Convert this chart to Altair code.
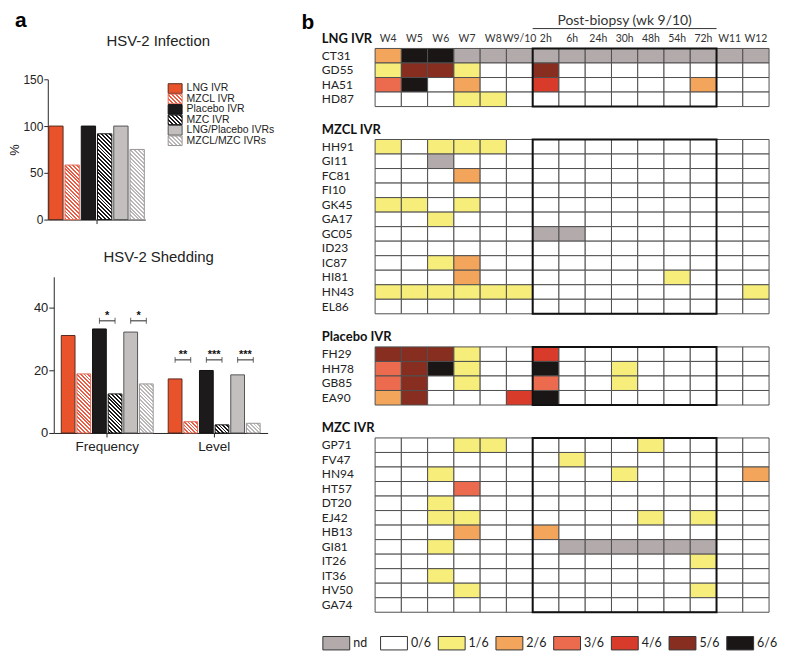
import math
import altair as alt
import pandas as pd

# ---------------- panel a data ----------------
SERIES = ["LNG IVR", "MZCL IVR", "Placebo IVR", "MZC IVR", "LNG/Placebo IVRs", "MZCL/MZC IVRs"]
INFECTION = [100, 58.3, 100, 91.7, 100, 75]
SHED_GROUPS = ["Frequency", "Level"]
SHED_FREQ = [31.2, 18.9, 33.3, 12.5, 32.3, 15.7]
SHED_LEVEL = [17.3, 3.6, 20.0, 2.6, 18.6, 3.1]
BRACKET_GROUP = ["Frequency", "Frequency", "Level", "Level", "Level"]
BRACKET_A = ["Placebo IVR", "LNG/Placebo IVRs", "LNG IVR", "Placebo IVR", "LNG/Placebo IVRs"]
BRACKET_B = ["MZC IVR", "MZCL/MZC IVRs", "MZCL IVR", "MZC IVR", "MZCL/MZC IVRs"]
BRACKET_Y = [35.9, 35.9, 23.4, 23.4, 23.4]
BRACKET_LABEL = ["*", "*", "**", "***", "***"]

# ---------------- panel b data ----------------
COLS = ["W4", "W5", "W6", "W7", "W8", "W9/10", "2h", "6h", "24h", "30h", "48h", "54h", "72h", "W11", "W12"]
POST = ["2h", "6h", "24h", "30h", "48h", "54h", "72h"]
LEVELS = ["nd", "0/6", "1/6", "2/6", "3/6", "4/6", "5/6", "6/6"]
# one character per column: n = nd, digit k = k/6
LNG_IDS = ["CT31", "GD55", "HA51", "HD87"]
LNG_ROWS = ["266nnnnnnnnnnnn", "155100500000000", "360200400000200", "000110000000000"]
MZCL_IDS = ["HH91", "GI11", "FC81", "FI10", "GK45", "GA17", "GC05", "ID23", "IC87", "HI81", "HN43", "EL86"]
MZCL_ROWS = ["101110000000000", "00n000000000000", "000200000000000", "000000000000000",
             "110100000000000", "001000000000000", "000000nn0000000", "000000000000000",
             "001200000000000", "000200000001000", "111111000000001", "000000000000000"]
PLA_IDS = ["FH29", "HH78", "GB85", "EA90"]
PLA_ROWS = ["555100400000000", "356100600100000", "350100300100000", "250004600000000"]
MZC_IDS = ["GP71", "FV47", "HN94", "HT57", "DT20", "EJ42", "HB13", "GI81", "IT26", "IT36", "HV50", "GA74"]
MZC_ROWS = ["000110000010000", "000000010000000", "001000000100002", "000300000000000",
            "001000000000000", "001100000010100", "000200200000000", "0010000nnnnnn00",
            "000000000000100", "001000000000000", "000100000000100", "000000000000000"]

# ---------------- styles ----------------
FONT_L = "Liberation Sans"
FONT_R = "Lato"
AX = "#262626"
SOLID = {"LNG IVR": "#e9532c", "Placebo IVR": "#1c1a1a", "LNG/Placebo IVRs": "#c4bfbf"}
HATCH = {"MZCL IVR": "#ec5a42", "MZC IVR": "#1c1a1a", "MZCL/MZC IVRs": "#bdb8b8"}
EDGE = {"LNG IVR": "#5a2a1e", "Placebo IVR": "#111111", "LNG/Placebo IVRs": "#555555",
        "MZCL IVR": "#e56a55", "MZC IVR": "#111111", "MZCL/MZC IVRs": "#9a9595"}
LEVEL_COLORS = ["#b3abab", "#ffffff", "#f6ed7b", "#f3a65b", "#ec6b4e", "#d93b2b", "#872e21", "#1b1616"]
CODE = {"n": "nd", "0": "0/6", "1": "1/6", "2": "2/6", "3": "3/6", "4": "4/6", "5": "5/6", "6": "6/6"}


def hatch(color, w, h, period=2.7, frac=0.5, bg="#ffffff"):
    """Diagonal (\\) stripes as a hard-stop linear gradient sized for a w x h box."""
    ext = (w + h) / math.sqrt(2)
    n = max(1, round(ext / period))
    a = w * (w + h) / (w * w + h * h)
    b = -h * (w + h) / (w * w + h * h)
    stops = []
    for k in range(n):
        o0, o1, o2 = k / n, (k + frac) / n, (k + 1) / n
        stops += [alt.GradientStop(color=color, offset=o0), alt.GradientStop(color=color, offset=o1),
                  alt.GradientStop(color=bg, offset=o1), alt.GradientStop(color=bg, offset=o2)]
    return alt.LinearGradient(gradient="linear", stops=stops, x1=0, y1=1, x2=a, y2=1 + b)


def bar_layers(df, enc, bar_w, plot_h, ymax):
    out = []
    for _, r in df.iterrows():
        s, g, v = r["series"], r["grp"], r["val"]
        fill = SOLID[s] if s in SOLID else hatch(HATCH[s], bar_w, v / ymax * plot_h)
        out.append(
            alt.Chart(df)
            .transform_filter((alt.datum.series == s) & (alt.datum.grp == g))
            .mark_bar(fill=fill, stroke=EDGE[s], strokeWidth=1)
            .encode(**enc)
        )
    return out


def panel_letter(letter, x, y):
    return alt.Chart(pd.DataFrame({"t": [letter]})).mark_text(
        font=FONT_L, fontSize=21, fontWeight="bold", align="left", baseline="alphabetic", color="#000"
    ).encode(text="t:N", x=alt.value(x), y=alt.value(y))


# ---------------- bar chart 1: infection ----------------
PAD1 = 31           # the heat map starts this much higher than the first bar chart
W1, H1 = 98, 141
inf_df = pd.DataFrame({"grp": ["HSV-2 Infection"] * len(SERIES), "series": SERIES, "val": INFECTION})
enc1 = dict(
    x=alt.X("grp:N", title=None, scale=alt.Scale(paddingInner=0, paddingOuter=0),
            axis=alt.Axis(labels=False, tickSize=4, title=None)),
    xOffset=alt.XOffset("series:N", scale=alt.Scale(domain=SERIES, paddingInner=0.12, paddingOuter=0.06)),
    y=alt.Y("val:Q", scale=alt.Scale(domain=[0, 150], nice=False, range=[PAD1 + H1, PAD1]),
            axis=alt.Axis(values=[0, 50, 100, 150], title="%", tickSize=4, labelPadding=1,
                          labelFontSize=12, titleFontSize=13, titlePadding=1)),
)
bw1 = W1 / (6 - 0.12 + 0.12) * (1 - 0.12)
bar1 = alt.layer(*bar_layers(inf_df, enc1, bw1, H1, 150)).properties(
    width=W1, height=PAD1 + H1,
    title=alt.TitleParams("HSV-2 Infection", fontSize=15, font=FONT_L, fontWeight="normal",
                          anchor="middle", frame="group", dx=62, offset=-1, color="#222"),
)

# legend for the bars (also carries the panel letter)
LEG_GAP = 23
leg_df = pd.DataFrame({"series": SERIES})
LEG_TOP, LEG_BOT = PAD1 + 4, PAD1 + 67
ly = alt.Y("series:N", scale=alt.Scale(domain=SERIES, paddingInner=0.08, paddingOuter=0.04,
                                       range=[LEG_TOP, LEG_BOT]),
           axis=alt.Axis(orient="right", title=None, ticks=False, domain=False, labelPadding=4,
                         labelFontSize=10.5, labelFont=FONT_L, labelColor="#222"))
leg_step = (LEG_BOT - LEG_TOP) / (6 - 0.08 + 0.08)
leg_layers = []
for s in SERIES:
    fill = SOLID[s] if s in SOLID else hatch(HATCH[s], 14, leg_step * 0.92)
    leg_layers.append(
        alt.Chart(leg_df).transform_filter(alt.datum.series == s)
        .mark_rect(fill=fill, stroke=EDGE[s], strokeWidth=1).encode(y=ly)
    )
leg_layers.append(panel_letter("a", -(W1 + LEG_GAP + 33), PAD1 - 52.5))
legend_chart = alt.layer(*leg_layers).properties(width=14, height=PAD1 + H1)

top_row = alt.hconcat(bar1, legend_chart, spacing=LEG_GAP, bounds="flush")

# ---------------- bar chart 2: shedding ----------------
SHIFT2 = 6          # bottom chart's y axis sits a little right of the top one
W2, H2 = 215, 157
shed_df = pd.DataFrame({
    "grp": [SHED_GROUPS[0]] * 6 + [SHED_GROUPS[1]] * 6,
    "series": SERIES * 2,
    "val": SHED_FREQ + SHED_LEVEL,
})
xs2 = alt.Scale(domain=SHED_GROUPS, paddingInner=0, paddingOuter=0, range=[SHIFT2, SHIFT2 + W2])
xo2 = alt.Scale(domain=SERIES, paddingInner=0.12, paddingOuter=0.48)
ys2 = alt.Scale(domain=[0, 50], nice=False)
enc2 = dict(
    x=alt.X("grp:N", title=None, scale=xs2,
            axis=alt.Axis(labelAngle=0, tickSize=4, labelPadding=3, labelFontSize=13.5, title=None)),
    xOffset=alt.XOffset("series:N", scale=xo2),
    y=alt.Y("val:Q", scale=ys2,
            axis=alt.Axis(values=[0, 10, 20, 30, 40, 50], title="%", tickSize=5, labelPadding=1,
                          labelFontSize=13, titleFontSize=13, titlePadding=14, offset=-SHIFT2)),
)
bstep2 = (W2 / 2) / (6 - 0.12 + 0.96)
bw2 = bstep2 * (1 - 0.12)

br_rows = []
for i, (g, a, b, yv, lab) in enumerate(zip(BRACKET_GROUP, BRACKET_A, BRACKET_B, BRACKET_Y, BRACKET_LABEL)):
    br_rows.append({"id": i, "grp": g, "series": a, "y": yv, "label": lab, "end": "a"})
    br_rows.append({"id": i, "grp": g, "series": b, "y": yv, "label": lab, "end": "b"})
br_df = pd.DataFrame(br_rows)
br_enc = dict(
    x=alt.X("grp:N", scale=xs2, title=None),
    xOffset=alt.XOffset("series:N", scale=xo2),
    y=alt.Y("y:Q", scale=ys2, title=None),
)
br_line = alt.Chart(br_df).mark_line(color=AX, strokeWidth=1).encode(detail="id:N", **br_enc)
br_tick = alt.Chart(br_df).mark_tick(orient="vertical", size=6, thickness=1, color=AX).encode(**br_enc)
br_text = (
    alt.Chart(br_df).transform_filter(alt.datum.end == "a")
    .mark_text(font=FONT_L, fontSize=11, fontWeight="bold", baseline="alphabetic", dx=bstep2 / 2, dy=-1.5,
               color="#111")
    .encode(text="label:N", **br_enc)
)
bar2 = alt.layer(*bar_layers(shed_df, enc2, bw2, H2, 50), br_line, br_tick, br_text).properties(
    width=W2 + SHIFT2, height=H2,
    title=alt.TitleParams("HSV-2 Shedding", fontSize=15, font=FONT_L, fontWeight="normal",
                          anchor="middle", frame="group", dx=SHIFT2 / 2 - 2, offset=12, color="#222"),
)

left = alt.vconcat(top_row, bar2, spacing=22.5).resolve_scale(xOffset="independent")

# ---------------- heat map sections ----------------
ROW_H = 14.6
GRID_W = 396


def section(title, ids, rows, first=False, last=False):
    recs = [{"pid": p, "col": c, "lvl": CODE[ch]} for p, r in zip(ids, rows) for c, ch in zip(COLS, r)]
    df = pd.DataFrame(recs)
    h = ROW_H * len(ids)
    xs = alt.Scale(domain=COLS, paddingInner=0, paddingOuter=0)
    ys = alt.Scale(domain=ids, paddingInner=0, paddingOuter=0)
    if first:
        xax = alt.Axis(orient="top", title=None, ticks=False, domain=False, labelAngle=0, labelPadding=5,
                       labelFontSize=10.5, labelFont=FONT_R, labelColor="#333")
    else:
        xax = None
    yax = alt.Axis(title=title, titleAngle=0, titleX=-54, titleY=-6, titleAlign="left",
                   titleBaseline="alphabetic", titleFont=FONT_R, titleFontSize=13, titleFontWeight="bold",
                   titleColor="#111", labelAlign="left", labelPadding=54, labelBaseline="middle",
                   ticks=False, domain=False, labelFont=FONT_R, labelFontSize=12, labelColor="#222")
    if last:
        leg = alt.Legend(orient="none", legendX=-53, legendY=h + 17, direction="horizontal", columns=8,
                         gridAlign="all", title=None, symbolType="M-1,-0.5H1V0.5H-1Z", symbolSize=729,
                         symbolStrokeColor="#333", symbolStrokeWidth=1, symbolOpacity=1,
                         labelFont=FONT_R, labelFontSize=12.5, labelOffset=3, columnPadding=4,
                         labelColor="#222", padding=0)
    else:
        leg = None
    cells = alt.Chart(df).mark_rect(stroke="#505050", strokeWidth=1).encode(
        x=alt.X("col:N", scale=xs, axis=xax, title=None),
        y=alt.Y("pid:N", scale=ys, axis=yax),
        color=alt.Color("lvl:N", scale=alt.Scale(domain=LEVELS, range=LEVEL_COLORS), legend=leg),
    )
    box_df = pd.DataFrame({"c1": [POST[0]], "c2": [POST[-1]], "r1": [ids[0]], "r2": [ids[-1]]})
    if first:
        bx = alt.X("c1:N", bandPosition=0, scale=xs, title=None)
    else:
        bx = alt.X("c1:N", bandPosition=0, scale=xs, axis=None)
    box = alt.Chart(box_df).mark_rect(fillOpacity=0, stroke="#111", strokeWidth=2).encode(
        x=bx, x2=alt.X2("c2", bandPosition=1, title=None),
        y=alt.Y("r1:N", bandPosition=0, scale=ys), y2=alt.Y2("r2", bandPosition=1),
    )
    layers = [cells, box]
    if first:
        hdr_df = pd.DataFrame({"c1": [POST[0]], "c2": [POST[-1]], "mid": [POST[3]],
                               "label": ["Post-biopsy (wk 9/10)"]})
        layers.append(alt.Chart(hdr_df).mark_rule(color="#333", strokeWidth=1).encode(
            x=alt.X("c1:N", bandPosition=0, scale=xs, title=None), x2=alt.X2("c2", bandPosition=1, title=None),
            y=alt.value(-20)))
        layers.append(alt.Chart(hdr_df).mark_text(font=FONT_R, fontSize=14, baseline="alphabetic",
                                                  color="#333").encode(
            x=alt.X("mid:N", scale=xs, title=None), y=alt.value(-24), text="label:N"))
        layers.append(panel_letter("b", -74, -20))
    return alt.layer(*layers).properties(width=GRID_W, height=h)


right = alt.vconcat(
    section("LNG IVR", LNG_IDS, LNG_ROWS, first=True),
    section("MZCL IVR", MZCL_IDS, MZCL_ROWS),
    section("Placebo IVR", PLA_IDS, PLA_ROWS),
    section("MZC IVR", MZC_IDS, MZC_ROWS, last=True),
    spacing=32.5, bounds="flush",
).resolve_scale(color="independent")

chart = (
    alt.hconcat(left, right, spacing=26)
    .properties(padding=0)
    .configure_view(stroke="transparent")
    .configure_axis(labelFont=FONT_L, titleFont=FONT_L, domainColor=AX, tickColor=AX,
                    labelColor="#222", titleColor="#222", grid=False, titleFontWeight="normal")
    .configure_title(font=FONT_L)
)

chart.save("out.html", embed_options={"renderer": "svg", "actions": False})
